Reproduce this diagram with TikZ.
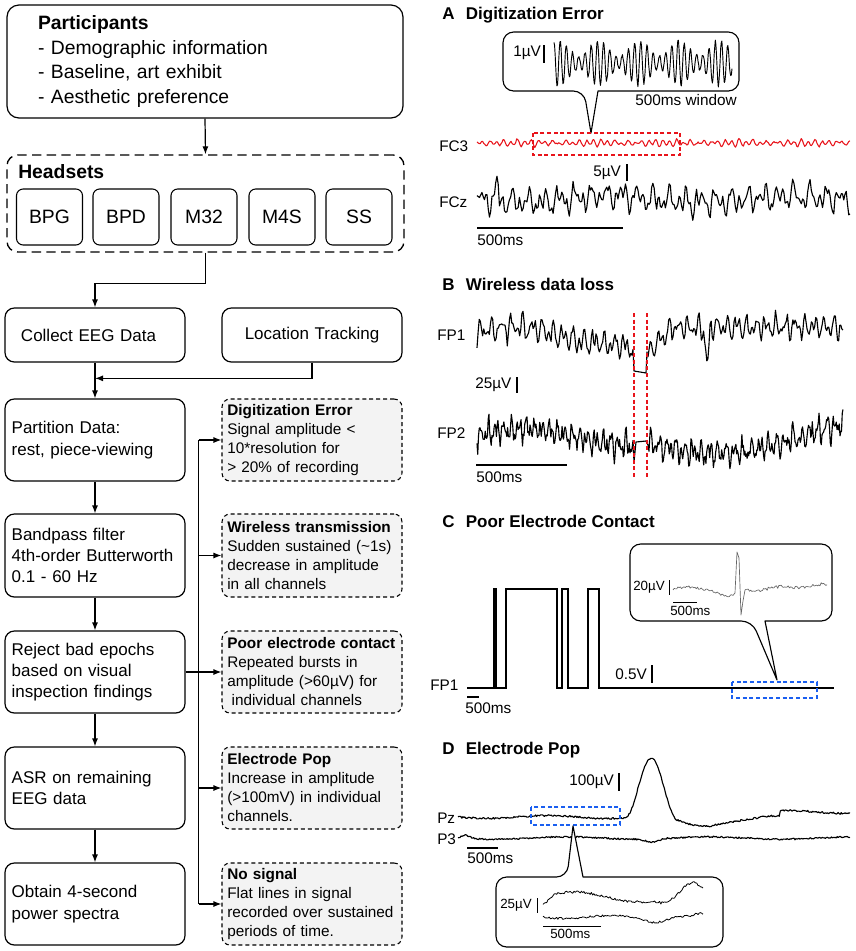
\documentclass[tikz,border=0pt]{standalone}
\usepackage{fontspec}
\setmainfont{Liberation Sans}
\usetikzlibrary{arrows.meta,calc}
\definecolor{boxfill}{HTML}{F3F3F3}
\definecolor{redd}{HTML}{E8141B}
\definecolor{blued}{HTML}{1A5FF0}
\begin{document}
\pgfmathsetseed{11}
\begin{tikzpicture}[x=0.75pt,y=-0.75pt,
  declare function={wv(\kk,\qq)=sin(\kk*mod(\qq,360/\kk)); bmp(\qq,\cc,\ww)=0.5+0.5*cos(180*min(1,abs(\qq-\cc)/\ww));},
  flow/.style={draw, line width=0.9pt, rounded corners=7pt, minimum width=135pt, text width=125pt, inner xsep=5pt, inner ysep=0pt, align=left, font=\fontsize{12.75}{16}\selectfont},
  crit/.style={draw, line width=0.8pt, dash pattern=on 3pt off 2.2pt, fill=boxfill, rounded corners=6pt, minimum width=135pt, minimum height=61.5pt, text width=127pt, inner xsep=4pt, inner ysep=0pt, align=left, font=\fontsize{11.5}{14.25}\selectfont},
  hsbox/.style={draw, line width=0.8pt, rounded corners=5pt, minimum width=49.5pt, minimum height=42pt, inner sep=0pt, font=\fontsize{14.5}{17}\selectfont},
  arr/.style={line width=0.9pt, -{Latex[length=6pt,width=4.5pt]}},
  lbl/.style={anchor=west, inner sep=0pt, font=\fontsize{11.5}{13}\selectfont},
  lblb/.style={anchor=base west, inner sep=0pt, font=\fontsize{11.5}{13}\selectfont},
  smalll/.style={anchor=west, inner sep=0pt, font=\fontsize{10}{12}\selectfont},
  smallb/.style={anchor=base west, inner sep=0pt, font=\fontsize{10}{12}\selectfont},
  ptitle/.style={anchor=base west, inner sep=0pt, font=\bfseries\fontsize{12.75}{15}\selectfont},
  trace/.style={line width=0.85pt, line join=round},
  callout/.style={line width=0.85pt, fill=white, line join=round},
  sbar/.style={line width=0.8pt},
  reddash/.style={redd, line width=1.5pt, dash pattern=on 3pt off 2pt},
  bluedash/.style={blued, line width=1.4pt, dash pattern=on 3pt off 2pt}
]
\useasboundingbox (0,0) rectangle (856,951);

% ---------------- left flowchart ----------------
\node[draw, line width=0.9pt, rounded corners=9pt, minimum width=297pt, minimum height=84.75pt,
      text width=250.5pt, inner xsep=23.25pt, inner ysep=0pt, align=left,
      font=\fontsize{14.5}{18.4}\selectfont] (part) at (205,61.5)
  {\textbf{Participants}\\- Demographic information\\- Baseline, art exhibit\\- Aesthetic preference};

\node[draw, line width=1pt, dash pattern=on 7pt off 4pt, rounded corners=8pt,
      minimum width=297.75pt, minimum height=72.75pt, inner sep=0pt] (hs) at (205.5,203.5) {};
\node[anchor=base west, inner sep=0pt, font=\bfseries\fontsize{14.5}{17}\selectfont] (hst) at (18,178) {Headsets};
\node[hsbox] (bpg) at (49.5,217) {BPG};
\node[hsbox] (bpd) at (126,217) {BPD};
\node[hsbox] (m32) at (204,217) {M32};
\node[hsbox] (m4s) at (282,217) {M4S};
\node[hsbox] (ss)  at (359,217) {SS};

\node[flow, minimum height=40.5pt] (collect) at (95,335) {\hspace*{7pt}Collect EEG Data};
\node[flow, align=center, minimum height=40.5pt] (loc) at (312,335) {Location Tracking};
\node[flow, minimum height=61.5pt] (partn) at (95,440) {Partition Data:\\rest, piece-viewing};
\node[flow, minimum height=62.25pt] (band) at (95,555.5) {Bandpass filter\\4th-order Butterworth\\0.1 - 60 Hz};
\node[flow, minimum height=61.5pt] (reject) at (95,672) {Reject bad epochs\\based on visual\\inspection findings};
\node[flow, minimum height=61.5pt] (asr) at (95,788) {ASR on remaining\\EEG data};
\node[flow, minimum height=61.5pt] (obtain) at (95,904) {Obtain 4-second\\power spectra};

\node[crit] (dig) at (312,440) {\textbf{Digitization Error}\\Signal amplitude <\\10*resolution for\\> 20\% of recording};
\node[crit, minimum height=62.25pt] (wire) at (312,555.5) {\textbf{Wireless transmission}\\Sudden sustained (\textasciitilde1s)\\decrease in amplitude\\in all channels};
\node[crit] (poor) at (312,672) {\textbf{Poor electrode contact}\\Repeated bursts in\\amplitude (>60µV) for\\\hspace*{0.28em}individual channels};
\node[crit] (pop) at (312,788) {\textbf{Electrode Pop}\\Increase in amplitude\\(>100mV) in individual\\channels.};
\node[crit] (nosig) at (312,904) {\textbf{No signal}\\Flat lines in signal\\recorded over sustained\\periods of time.};

\draw[arr] (part.south) -- (hs.north);
\draw[arr] (hs.south) -- ++(0,31) -| (collect.north);
\coordinate (j) at ($(collect.south)!0.44!(partn.north)$);
\draw[arr] (collect.south) -- (partn.north);
\draw[arr] (loc.south) |- (j);
\draw[arr] (partn.south) -- (band.north);
\draw[arr] (band.south) -- (reject.north);
\draw[arr] (reject.south) -- (asr.north);
\draw[arr] (asr.south) -- (obtain.north);
\coordinate (bt) at ($(reject.east)+(13,0)$);
\draw[line width=0.9pt] (bt |- dig.west) -- (bt |- nosig.west);
\draw[arr] (bt |- dig.west) -- (dig.west);
\draw[arr] (bt |- wire.west) -- (wire.west);
\draw[arr] (reject.east) -- (poor.west);
\draw[arr] (bt |- pop.west) -- (pop.west);
\draw[arr] (bt |- nosig.west) -- (nosig.west);

% ---------------- panel A ----------------
\node[ptitle] (ta) at (442,19.5) {A\hspace{8.5pt}Digitization Error};
\draw[callout] (620,32) [rounded corners=8pt] -- (503,32) -- (503,91) -- (584,91) [sharp corners] -- (591,133) -- (598,91) [rounded corners=8pt] -- (739,91) -- (739,32) -- cycle;
\node[lbl] (a1) at (513,53) {1µV};
\draw[sbar] (544,45) -- (544,63);
\draw[line width=0.7pt, line join=round] plot[domain=554:732, samples=300] (\x,{63 - 23*wv(58,\x)*(0.65+0.35*wv(9,\x+11)) + 1.5*rand});
\node[lblb] (a2) at (635,105) {500ms window};
\node[lbl] (fc3) at (439,146) {FC3};
\draw[trace, redd, line width=0.8pt] plot[domain=477:850, samples=330] (\x,{143 + 3*wv(52,\x)*(0.75+0.25*wv(5,\x)) + 1.3*wv(29,\x+2) + 0.8*rand});
\draw[reddash] (533,133) rectangle (680,155);
\node[lbl] (a5) at (593,173) {5µV};
\draw[sbar] (627,164) -- (627,181);
\node[lbl] (fcz) at (439,202) {FCz};
\draw[trace] plot[domain=477:850, samples=300] (\x,{199 + 7*wv(23,\x) + 6*wv(41,\x+4) + 5*wv(67,\x+1) + 3.5*rand + 3*sin(2*(\x-477)) - 18*bmp(\x,497,3)});
\draw[sbar] (477,228) -- (623,228);
\node[lblb] (a500) at (477,245) {500ms};

% ---------------- panel B ----------------
\node[ptitle] (tb) at (442,290) {B\hspace{8.5pt}Wireless data loss};
\node[lbl] (fp1) at (437,335) {FP1};
\draw[trace] plot[domain=477:633, samples=140] (\x,{333 + 8*wv(35,\x) + 6*wv(58,\x+3) + 4*wv(83,\x+1) + 3*rand - 6*sin(2.5*(\x-477)) + 18*(max(0,\x-560)/73)^2})
  -- (634,371) -- (646,373) -- (647,352)
  -- plot[domain=648:843, samples=180] (\x,{327 + 25*(1-min((\x-648)/25,1)) + 7*wv(37,\x) + 6*wv(61,\x+2) + 3*wv(89,\x) + 3*rand + 36*bmp(\x,707,4)});
\node[lbl] (b25) at (475,385) {25µV};
\draw[sbar] (517,377) -- (517,393);
\node[lbl] (fp2) at (437,433) {FP2};
\draw[trace] plot[domain=477:633, samples=210] (\x,{437 + 7*wv(47,\x) + 5*wv(79,\x+2) + 4*wv(113,\x+1) + 5*rand - 8*sin(1.8*(\x-477))})
  -- (634,462) -- (636,442) -- (646,441) -- (648,445)
  -- plot[domain=649:843, samples=260] (\x,{444 + 7*wv(43,\x) + 5*wv(71,\x+2) + 4*wv(107,\x+1) + 5*rand + 10*sin(1.3*(\x-649)) - 10*(max(0,\x-760)/83)});
\draw[reddash] (634,313) -- (634,477);
\draw[reddash] (647,313) -- (647,477);
\draw[sbar] (476,465) -- (567,465);
\node[lblb] (b500) at (476,482) {500ms};

% ---------------- panel C ----------------
\node[ptitle] (tc) at (442,527) {C\hspace{8.5pt}Poor Electrode Contact};
\draw[callout] (730,544) [rounded corners=8pt] -- (630,544) -- (630,621) -- (752,621) [sharp corners] -- (777,680) -- (765,621) [rounded corners=8pt] -- (832,621) -- (832,544) -- cycle;
\node[smalll] (c20) at (633,587) {20µV};
\draw[sbar, line width=0.6pt] (669,580) -- (669,595);
\draw[gray!80!black, line width=0.5pt, line join=round] plot[domain=673:733, samples=50] (\x,{589 - 2*sin(6*(\x-673)) + 1.2*rand + 6*bmp(\x,730,20)})
  -- (735,593) -- (737,552) -- (739,558) -- (741,615) -- (743,601) -- (745,590)
  -- plot[domain=746:827, samples=70] (\x,{590 + 1.6*rand + 1.2*sin(8*(\x-746)) - 5*(\x-746)/81});
\draw[sbar, line width=0.6pt] (673,602) -- (697,602);
\node[smallb] (c500) at (670,615) {500ms};
\node[lbl] (fp1c) at (430,685) {FP1};
\draw[trace, line join=miter] (467,688) -- (494,688) -- (494,589) -- (496,589) -- (496,688) -- (506,688) -- (506,589) -- (557,589) -- (557,688) -- (562,688) -- (562,589) -- (568,589) -- (568,688) -- (588,688) -- (588,589) -- (599,589) -- (599,688) -- (834,688);
\node[lbl] (c05) at (615,674) {0.5V};
\draw[sbar] (652,665) -- (652,683);
\draw[bluedash] (732,682) rectangle (817,698);
\draw[sbar] (467,697) -- (479,697);
\node[lblb] (c500b) at (465,713) {500ms};

% ---------------- panel D ----------------
\node[ptitle] (td) at (442,754) {D\hspace{8.5pt}Electrode Pop};
\node[lbl] (d100) at (569,782) {100µV};
\draw[sbar] (619,773) -- (619,791);
\node[lbl] (pz) at (437,818) {Pz};
\draw[trace] plot[domain=458:850, samples=400] (\x,{817 + 1.5*sin(3*(\x-458)) + 0.9*rand - 58*bmp(\x,651,26) + 9*bmp(\x,700,45) + 2*bmp(\x,740,30) - 5*(\x>780)});
\node[lbl] (p3) at (437,839) {P3};
\draw[trace] plot[domain=458:850, samples=400] (\x,{838 + 1.2*sin(2.5*(\x-458)) + 0.8*rand + 3*bmp(\x,652,15) - 3*bmp(\x,466,10)});
\draw[bluedash] (531,807) rectangle (620,825);
\draw[sbar] (467,848) -- (498,848);
\node[lblb] (d500) at (467,863) {500ms};
\draw[callout] (600,947) [rounded corners=8pt] -- (496,947) -- (496,877) -- (567,877) [sharp corners] -- (573,826) -- (583,877) [rounded corners=8pt] -- (723,877) -- (723,947) -- cycle;
\node[smalll] (d25) at (500,905) {25µV};
\draw[sbar, line width=0.6pt] (537,898) -- (537,913);
\draw[line width=0.6pt, line join=round] plot[domain=543:703, samples=130] (\x,{897 - 5*sin(2.8*(\x-543)) + 7*bmp(\x,543,12) - 10*bmp(\x,692,20) + 4*bmp(\x,665,15) + 1.3*rand});
\draw[line width=0.6pt, line join=round] plot[domain=543:703, samples=130] (\x,{917 + 1.5*sin(4*(\x-543)) + 1*rand + 4*bmp(\x,655,22) - 2*bmp(\x,700,12)});
\draw[sbar, line width=0.6pt] (543,926) -- (601,926);
\node[smallb] (d500b) at (550,938) {500ms};
\end{tikzpicture}
\end{document}
